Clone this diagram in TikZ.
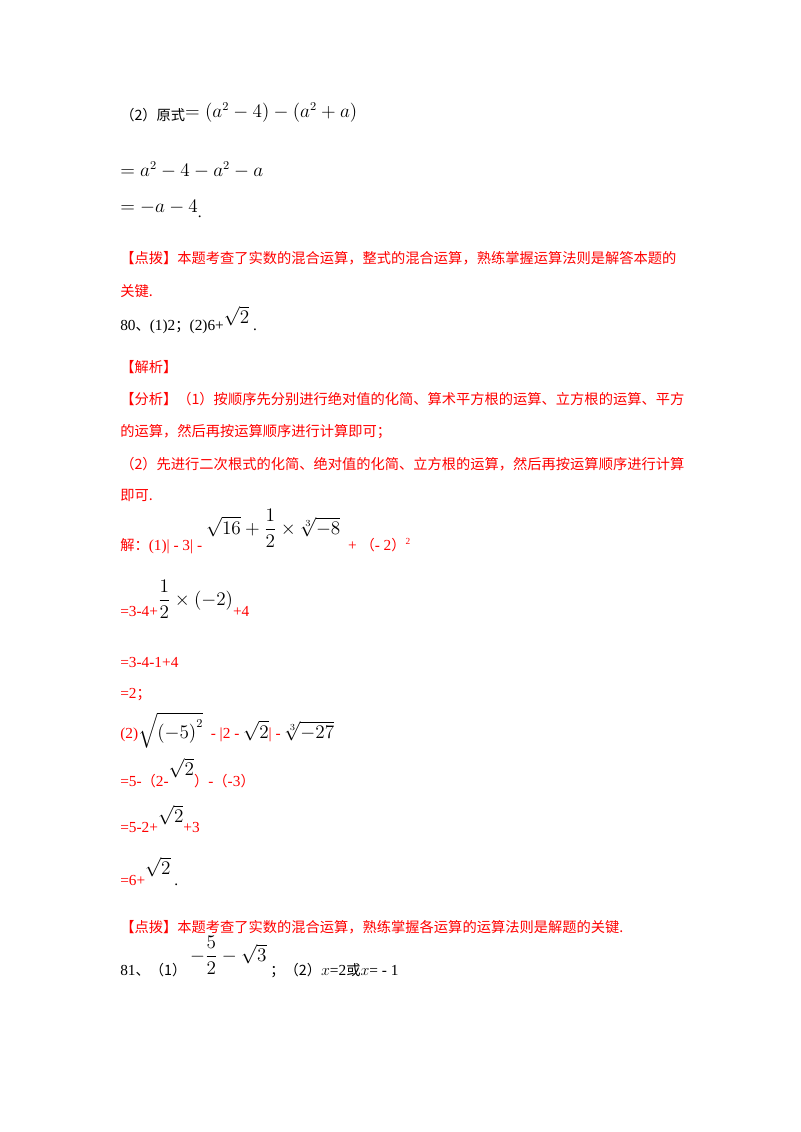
\documentclass[tikz,border=0pt]{standalone}
\usepackage{amsmath}
\usepackage{fontspec}
\setmainfont{Liberation Serif}
\newfontfamily\cjk[Scale=0.93]{Noto Sans CJK SC}
\newcommand\MM[1]{{\fontsize{13.5}{16}\selectfont$#1$}}
\begin{document}
\begin{tikzpicture}[x=0.75pt,y=-0.75pt,
  t/.style={anchor=base west,inner sep=0pt,font=\fontsize{11.5}{14}\selectfont},
  r/.style={t,text=red}]
\useasboundingbox (0,0) rectangle (800,1132);
\node[t] (l1) at (120,120) {{\cjk （2）原式}\raisebox{2pt}{\MM{=\left(a^2-4\right)-\left(a^2+a\right)}}};
\node[t] (l2) at (120,176) {\MM{=a^2-4-a^2-a}};
\node[t] (l3) at (120,212) {\MM{=-a-4}\raisebox{-4pt}{.}};
\node[r] (l4) at (120,263) {\cjk 【点拨】本题考查了实数的混合运算，整式的混合运算，熟练掌握运算法则是解答本题的};
\node[r] (l5) at (120,296) {\cjk 关键.};
\node[t] (l6) at (120,330) {80{\cjk 、}(1)2{\cjk ；}(2)6+\raisebox{5pt}{\MM{\sqrt{2}}}\ .};
\node[r] (l7) at (120,372) {\cjk 【解析】};
\node[r] (l8) at (120,404) {\cjk 【分析】（1）按顺序先分别进行绝对值的化简、算术平方根的运算、立方根的运算、平方};
\node[r] (l9) at (120,436) {\cjk 的运算，然后再按运算顺序进行计算即可；};
\node[r] (l10) at (120,469) {\cjk （2）先进行二次根式的化简、绝对值的化简、立方根的运算，然后再按运算顺序进行计算};
\node[r] (l11) at (120,500) {\cjk 即可.};
\node[r] (l12) at (120,550) {{\cjk 解：}(1)| - 3| - \raisebox{12pt}{\color{black}\MM{\sqrt{16}+\dfrac{1}{2}\times\sqrt[3]{-8}}}\ \ + {\cjk （}- 2{\cjk ）}\raisebox{4pt}{\scriptsize 2}};
\node[r] (l13) at (120,616) {=3-4+\raisebox{8pt}{\color{black}\MM{\dfrac{1}{2}\times\left(-2\right)}}+4};
\node[r] (l14) at (120,667) {=3-4-1+4};
\node[r] (l15) at (120,698) {=2{\cjk ；}};
\node[r] (l16) at (120,738) {(2)\color{black}\MM{\sqrt{\left(-5\right)^2}}\ \ \color{red}- |2 - \color{black}\MM{\sqrt{2}}\color{red} | - \color{black}\MM{\sqrt[3]{-27}}};
\node[r] (l17) at (120,786) {=5-{\cjk （}2-\raisebox{8pt}{\color{black}\MM{\sqrt{2}}}{\cjk ）}-{\cjk （}-3{\cjk ）}};
\node[r] (l18) at (120,832) {=5-2+\raisebox{7pt}{\color{black}\MM{\sqrt{2}}}+3};
\node[r] (l19) at (120,885) {=6+\raisebox{8pt}{\color{black}\MM{\sqrt{2}}}\ \color{black}.};
\node[r] (l20) at (120,932) {\cjk 【点拨】本题考查了实数的混合运算，熟练掌握各运算的运算法则是解题的关键.};
\node[t] (l21) at (120,975) {81{\cjk 、}{\cjk （1）}\ \raisebox{10pt}{\MM{-\dfrac{5}{2}-\sqrt{3}}}\ {\cjk ；（2）}$x$=2{\cjk 或}$x$= - 1};
\end{tikzpicture}
\end{document}
